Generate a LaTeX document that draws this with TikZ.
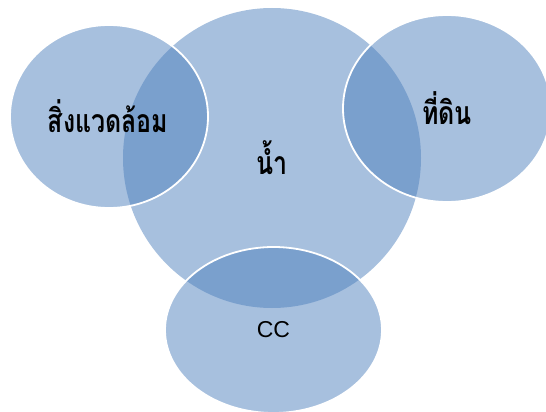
\documentclass[tikz,border=0pt]{standalone}
\usepackage{fontspec}
\newfontfamily\thaifont[Script=Thai,FakeStretch=0.78]{Loma}
\setsansfont{Liberation Sans}
\usetikzlibrary{shapes.geometric}
\definecolor{acc}{HTML}{4F81BD}
\begin{document}
\begin{tikzpicture}[x=1pt,y=-1pt,
  venn/.style={ellipse, inner sep=0pt, fill=acc, fill opacity=0.5, text opacity=1, text=black},
  sat/.style={venn, draw=white, draw opacity=1, line width=1.8pt},
  thai/.style={font=\thaifont\bfseries\fontsize{32}{36}\selectfont},
  latin/.style={font=\sffamily\fontsize{23}{27}\selectfont}]
\useasboundingbox (0,0) rectangle (546,412);
\node[venn, minimum width=298pt, minimum height=300pt, thai] (water) at (272,158) {\raisebox{-2pt}{น้ำ}};
\node[sat, minimum width=198pt, minimum height=183pt, thai] (env) at (109,116.5) {\hspace*{-2pt}สิ่งแวดล้อม};
\node[sat, minimum width=208pt, minimum height=187pt, thai] (land) at (447,108.5) {ที่ดิน};
\node[sat, minimum width=217pt, minimum height=166pt, latin] (cc) at (273.5,330) {\raisebox{-2pt}{CC}};
\end{tikzpicture}
\end{document}
